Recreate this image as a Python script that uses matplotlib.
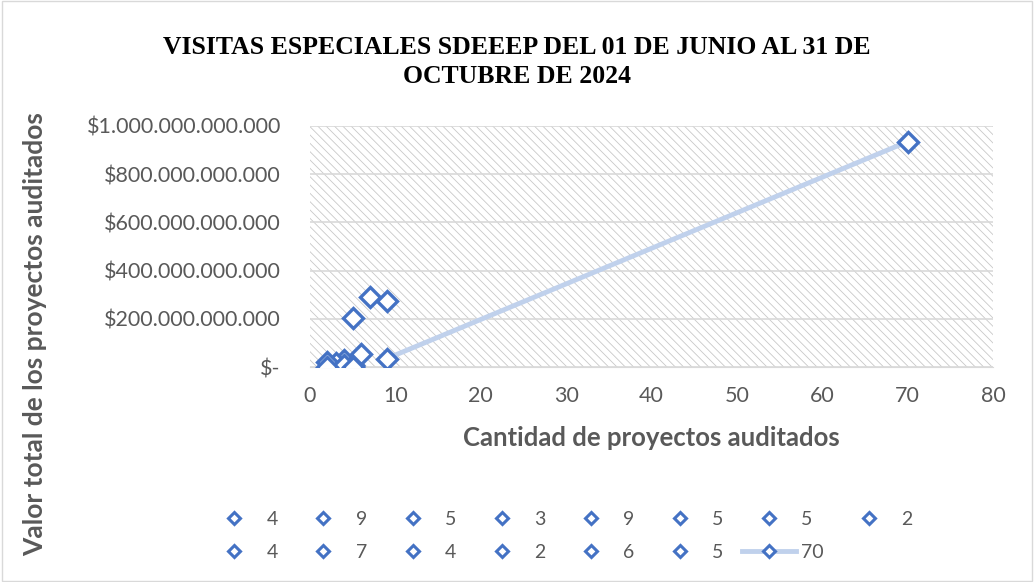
import matplotlib
matplotlib.use("Agg")
import matplotlib.pyplot as plt
from matplotlib.lines import Line2D
from matplotlib.ticker import FuncFormatter, MultipleLocator

# Datos: cada serie es una visita (nombre = cantidad de proyectos)
series_nombres = ["4", "9", "5", "3", "9", "5", "5", "2", "4", "7", "4", "2", "6", "5", "70"]
cantidad = [4, 9, 5, 3, 9, 5, 5, 2, 4, 7, 4, 2, 6, 5, 70]
valor = [30e9, 272e9, 205e9, 15e9, 35e9, 3e9, 8e9, 20e9, 2e9, 290e9, 10e9, 2e9, 55e9, 0.0, 935e9]

# la ultima serie trae una linea desde el punto (9, 35e9)
linea_x = [9, 70]
linea_y = [35e9, 935e9]

azul = "#4472C4"
azul_claro = "#C0D1EC"
gris = "#595959"

plt.rcParams["font.family"] = ["Lato", "DejaVu Sans"]
plt.rcParams["hatch.linewidth"] = 0.6
plt.rcParams["hatch.color"] = "#C8C8C8"

fig = plt.figure(figsize=(10.34, 5.82), dpi=100)
ax = fig.add_axes([310 / 1034, 1 - 367 / 582, (993 - 310) / 1034, (367 - 126) / 582])

ax.patch.set_facecolor("white")
ax.patch.set_hatch("\\\\\\\\")
ax.patch.set_edgecolor("#C8C8C8")

ax.set_xlim(0, 80)
ax.set_ylim(0, 1e12)
ax.xaxis.set_major_locator(MultipleLocator(10))
ax.yaxis.set_major_locator(MultipleLocator(2e11))


def fmt_peso(v, pos):
    if v == 0:
        return "$-"
    return "$" + f"{int(round(v)):,}".replace(",", ".")


ax.yaxis.set_major_formatter(FuncFormatter(fmt_peso))
ax.grid(axis="y", color="#D9D9D9", linewidth=1.2)
ax.set_axisbelow(True)
for s in ["top", "right", "left"]:
    ax.spines[s].set_visible(False)
ax.spines["bottom"].set_color("#D9D9D9")
ax.tick_params(axis="y", length=0, labelsize=15.5, colors=gris, pad=21)
ax.tick_params(axis="x", length=0, labelsize=15.5, colors=gris, pad=14)

ax.plot(linea_x, linea_y, color=azul_claro, linewidth=3.5, solid_capstyle="round", zorder=2)

handles = []
for i, nombre in enumerate(series_nombres):
    ax.plot(cantidad[i], valor[i], marker="D", markersize=10, markerfacecolor="white",
            markeredgecolor=azul, markeredgewidth=2.4, linestyle="none", zorder=3)
    if nombre == "70":
        h = Line2D([], [], color=azul_claro, linewidth=3.5, marker="D", markersize=6.5,
                   markerfacecolor="white", markeredgecolor=azul, markeredgewidth=2.2)
    else:
        h = Line2D([], [], linestyle="none", marker="D", markersize=6.5,
                   markerfacecolor="white", markeredgecolor=azul, markeredgewidth=2.2)
    handles.append(h)

ax.set_xlabel("Cantidad de proyectos auditados", fontsize=18.5, fontweight="bold", color=gris, labelpad=14)
fig.text(35 / 1034, 1 - 334 / 582, "Valor total de los proyectos auditados", rotation=90,
         fontsize=19, fontweight="bold", color=gris, ha="center", va="center")

fig.text(517 / 1034, 1 - 62 / 582, "VISITAS ESPECIALES SDEEEP DEL 01 DE JUNIO AL 31 DE\nOCTUBRE DE 2024",
         ha="center", va="center", fontsize=18.5, fontweight="bold",
         family=["Liberation Serif", "DejaVu Serif"], linespacing=1.38)

# leyenda en filas de 8: matplotlib llena por columnas, asi que se reordena
ncol = 8
orden = []
for c in range(ncol):
    for r in range(2):
        k = r * ncol + c
        if k < len(series_nombres):
            orden.append(k)
leg = fig.legend([handles[k] for k in orden], [series_nombres[k] for k in orden], ncol=ncol,
                 loc="center", bbox_to_anchor=(560 / 1034, 1 - 536 / 582),
                 frameon=False, fontsize=14, labelcolor=gris, handlelength=2.8, columnspacing=0.95,
                 handletextpad=0.25, labelspacing=0.85)

# borde del grafico
fig.patches.append(plt.Rectangle((0.002, 0.002), 0.996, 0.996, transform=fig.transFigure,
                                 fill=False, edgecolor="#D9D9D9", linewidth=1))

fig.savefig("out.png", dpi=100)
